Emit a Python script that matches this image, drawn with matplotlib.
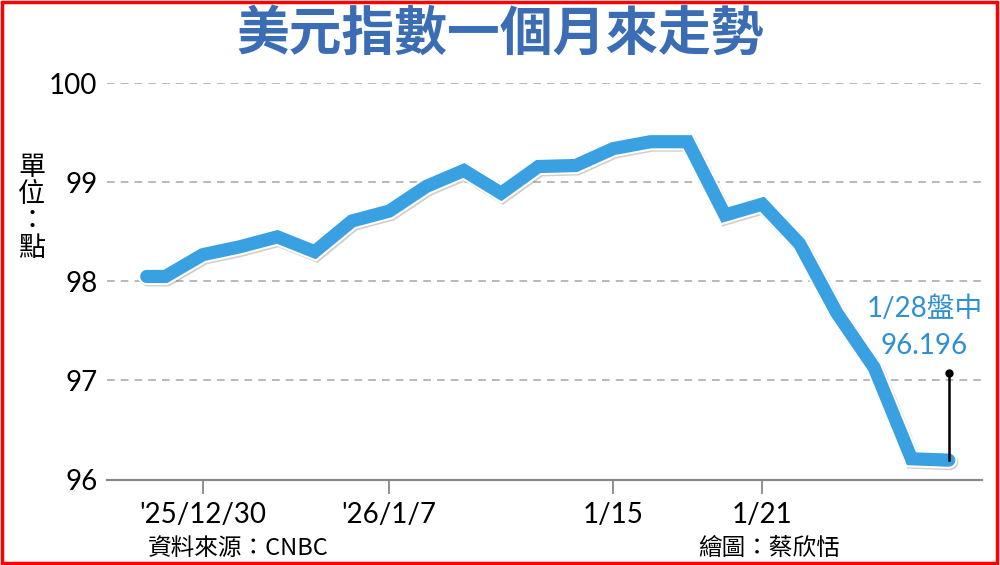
import matplotlib
matplotlib.use("Agg")
import matplotlib.pyplot as plt
import matplotlib.patheffects as pe
from matplotlib.patches import Rectangle
import numpy as np

plt.rcParams['font.family'] = ['Lato', 'Noto Sans CJK TC', 'DejaVu Sans']

# ---- data ----
dates = ['12/29', '12/30', '12/31', '1/2', '1/5', '1/6', '1/7', '1/8', '1/9',
         '1/12', '1/13', '1/14', '1/15', '1/16', '1/19', '1/20', '1/21',
         '1/22', '1/23', '1/26', '1/27', '1/28']
values = [98.05, 98.27, 98.35, 98.45, 98.30, 98.61, 98.71, 98.96, 99.12,
          98.89, 99.16, 99.17, 99.34, 99.41, 99.41, 98.67, 98.78,
          98.38, 97.68, 97.13, 96.21, 96.196]
tick_dates = ['12/30', '1/7', '1/15', '1/21']
tick_labels = ["'25/12/30", "'26/1/7", "1/15", "1/21"]
y_ticks = [96, 97, 98, 99, 100]

title = '美元指數一個月來走勢'
unit_label = '單位：點'
source = '資料來源：CNBC'
credit = '繪圖：蔡欣恬'
note_date = '1/28盤中'
note_value = '96.196'

# ---- figure ----
fig = plt.figure(figsize=(10, 5.65), dpi=100)
ax = fig.add_axes([0.107, 0.1512, 0.875, 0.7014])

x = np.arange(len(dates))
# line begins with a short flat lead-in half a step before first date
xl = np.concatenate([[x[0] - 0.5], x])
yl = np.concatenate([[values[0]], values])

line_color = '#39a0e2'
lw = 9.5
ax.plot(xl, yl, color=line_color, lw=lw, solid_capstyle='round',
        solid_joinstyle='miter', zorder=3,
        path_effects=[pe.SimpleLineShadow(offset=(1.0, -1.2), shadow_color='#6b5a50',
                                          alpha=0.3, linewidth=lw + 2.5),
                      pe.Stroke(linewidth=lw + 3, foreground='white'),
                      pe.Normal()])

# callout for last value
xe, ye = x[-1], values[-1]
ax.plot([xe, xe], [ye, 97.08], color='black', lw=1.8, zorder=4)
ax.plot([xe], [97.08], 'o', color='black', ms=5, zorder=5)
ax.text(xe - 0.65, 97.72, note_date, ha='center', va='center', fontsize=20,
        color='#2f8fd3', family=['Lato', 'Noto Sans CJK TC'], zorder=5)
ax.text(xe - 0.65, 97.35, note_value, ha='center', va='center', fontsize=20,
        color='#2f8fd3', family=['Lato', 'Noto Sans CJK TC'], zorder=5)

ax.set_xlim(-1.566, 21.89)
ax.set_ylim(96, 100)
ax.set_yticks(y_ticks)
ax.set_yticklabels([str(v) for v in y_ticks], fontsize=20)
ax.tick_params(axis='y', length=0, pad=7)

ax.set_xticks([dates.index(d) for d in tick_dates])
ax.set_xticklabels(tick_labels, fontsize=20)
ax.tick_params(axis='x', length=10, width=1.3, color='#888888', pad=6,
               direction='out')

for s in ['left', 'right', 'top']:
    ax.spines[s].set_visible(False)
ax.spines['bottom'].set_color('#888888')
ax.spines['bottom'].set_linewidth(1.6)

for v in y_ticks[1:]:
    ax.axhline(v, color='#a5a5a5', lw=1.1, ls=(0, (5, 4)), zorder=1)

# texts
fig.text(0.5, 0.94, title, ha='center', va='center', fontsize=38,
         fontweight='bold', color='#3a6db4', family=['Noto Sans CJK TC'])
fig.text(0.032, 0.632, '\n'.join(unit_label), ha='center', va='center',
         fontsize=19.5, linespacing=1.0, family=['Noto Sans CJK TC'])
fig.text(0.148, 0.03, source, ha='left', va='center', fontsize=17,
         family=['Noto Sans CJK TC'])
fig.text(0.698, 0.03, credit, ha='left', va='center', fontsize=17,
         family=['Noto Sans CJK TC'])

# red frame
fig.add_artist(Rectangle((0.002, 0.003), 0.995, 0.994, transform=fig.transFigure,
                         fill=False, ec='#ff0000', lw=2.5))

fig.savefig('out.png', dpi=100, facecolor='white')
